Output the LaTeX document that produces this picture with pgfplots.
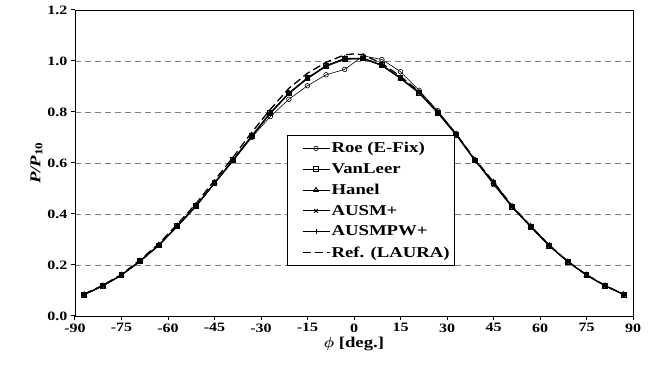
\documentclass[border=0pt]{standalone}
\usepackage{pgfplots}
\pgfplotsset{compat=1.18}
\usepackage{fontspec}
\usepackage{bm}
\setmainfont{Liberation Serif}[FakeStretch=1.25]
\begin{document}
\begin{tikzpicture}
\begin{axis}[
  scale only axis,
  width=558pt, height=306pt,
  xmin=-90, xmax=90, ymin=0, ymax=1.2,
  xtick={-90,-75,...,90},
  xticklabels={-90,-75,-60,-45,-30,-15,0,15,30,45,60,75,90},
  ytick={0,0.2,...,1.2},
  yticklabels={0.0,0.2,0.4,0.6,0.8,1.0,1.2},
  tick label style={font=\fontsize{12.8}{15}\selectfont\bfseries},
  tick align=outside, tick pos=left,
  major tick length=4pt,
  every tick/.style={black, line width=1pt},
  ymajorgrids,
  grid style={dashed, gray, line width=0.8pt, dash pattern=on 6pt off 4pt},
  axis line style={black, line width=0.8pt},
  xlabel={$\bm{\phi}$ [deg.]},
  ylabel={{\itshape P/P}\textsubscript{10}},
  label style={font=\fontsize{15}{17}\selectfont\bfseries},
  xlabel style={yshift=2pt},
  ylabel style={yshift=-2pt},
  legend cell align=left,
  legend style={at={(axis cs:-21.6,0.71)}, anchor=north west,
    font=\fontsize{15}{16}\selectfont\bfseries, draw=black, line width=1pt,
    fill=white, row sep=5.2pt, inner xsep=3pt, inner ysep=5pt},
  legend image code/.code={
    \path[use as bounding box, draw=none, fill=none] (0pt,-4pt) rectangle (39pt,4pt);
    \draw[mark repeat=2, mark phase=2, #1] plot coordinates {(12pt,0pt)(25.5pt,0pt)(39pt,0pt)};
  },
]
% Roe (E-Fix)
\addplot[black, line width=0.6pt, mark=o, mark size=2.3pt, mark options={solid, fill=white}] coordinates {
(-87,0.084)(-81,0.118)(-75,0.160)(-69,0.215)(-63,0.277)(-57,0.352)(-51,0.430)(-45,0.519)(-39,0.608)(-33,0.700)(-27,0.782)(-21,0.850)(-15,0.903)(-9,0.946)(-3,0.967)(3,1.020)(9,1.006)(15,0.958)(21,0.885)(27,0.805)(33,0.715)(39,0.612)(45,0.515)(51,0.426)(57,0.350)(63,0.275)(69,0.212)(75,0.160)(81,0.118)(87,0.084)};
\addlegendentry{Roe (E-Fix)}
% VanLeer
\addplot[black, line width=0.9pt, mark=square, mark size=2.4pt, mark options={solid, fill=white}] coordinates {
(-87,0.084)(-81,0.118)(-75,0.160)(-69,0.215)(-63,0.277)(-57,0.352)(-51,0.430)(-45,0.521)(-39,0.611)(-33,0.705)(-27,0.795)(-21,0.873)(-15,0.932)(-9,0.980)(-3,1.008)(3,1.010)(9,0.983)(15,0.932)(21,0.875)(27,0.797)(33,0.710)(39,0.610)(45,0.523)(51,0.428)(57,0.350)(63,0.275)(69,0.212)(75,0.160)(81,0.118)(87,0.084)};
\addlegendentry{VanLeer}
% Hanel
\addplot[black, line width=0.9pt, mark=triangle, mark size=2.6pt, mark options={solid}] coordinates {
(-87,0.084)(-81,0.119)(-75,0.161)(-69,0.216)(-63,0.278)(-57,0.353)(-51,0.432)(-45,0.523)(-39,0.613)(-33,0.707)(-27,0.797)(-21,0.875)(-15,0.934)(-9,0.982)(-3,1.010)(3,1.011)(9,0.984)(15,0.934)(21,0.877)(27,0.799)(33,0.712)(39,0.612)(45,0.525)(51,0.430)(57,0.352)(63,0.277)(69,0.213)(75,0.161)(81,0.119)(87,0.085)};
\addlegendentry{Hanel}
% AUSM+
\addplot[black, line width=0.9pt, mark=x, mark size=2.6pt, mark options={solid}] coordinates {
(-87,0.084)(-81,0.118)(-75,0.160)(-69,0.214)(-63,0.276)(-57,0.351)(-51,0.429)(-45,0.520)(-39,0.610)(-33,0.704)(-27,0.794)(-21,0.872)(-15,0.931)(-9,0.979)(-3,1.007)(3,1.009)(9,0.982)(15,0.931)(21,0.874)(27,0.796)(33,0.709)(39,0.609)(45,0.522)(51,0.427)(57,0.349)(63,0.275)(69,0.212)(75,0.160)(81,0.118)(87,0.084)};
\addlegendentry{AUSM+}
% AUSMPW+
\addplot[black, line width=0.9pt, mark=+, mark size=2.8pt, mark options={solid}] coordinates {
(-87,0.085)(-81,0.119)(-75,0.161)(-69,0.216)(-63,0.278)(-57,0.353)(-51,0.431)(-45,0.522)(-39,0.612)(-33,0.706)(-27,0.796)(-21,0.874)(-15,0.933)(-9,0.981)(-3,1.009)(3,1.010)(9,0.983)(15,0.933)(21,0.876)(27,0.798)(33,0.711)(39,0.611)(45,0.524)(51,0.429)(57,0.351)(63,0.276)(69,0.213)(75,0.161)(81,0.119)(87,0.085)};
\addlegendentry{AUSMPW+}
% Ref. (LAURA)
\addplot[black, line width=1.3pt, dash pattern=on 8pt off 4pt] coordinates {
(-87,0.086)(-81,0.121)(-75,0.163)(-69,0.220)(-63,0.283)(-57,0.360)(-51,0.440)(-45,0.532)(-39,0.623)(-33,0.720)(-27,0.810)(-21,0.893)(-15,0.952)(-9,0.995)(-3,1.024)(0,1.028)(3,1.024)(9,0.990)(15,0.940)(21,0.880)(27,0.800)(33,0.713)(39,0.615)(45,0.526)(51,0.432)(57,0.353)(63,0.278)(69,0.214)(75,0.162)(81,0.120)(87,0.085)};
\addlegendentry{Ref. (LAURA)}
\end{axis}
\path ([xshift=-75pt,yshift=-63pt]current axis.south west) rectangle ([xshift=22pt,yshift=10pt]current axis.north east);
\end{tikzpicture}
\end{document}
